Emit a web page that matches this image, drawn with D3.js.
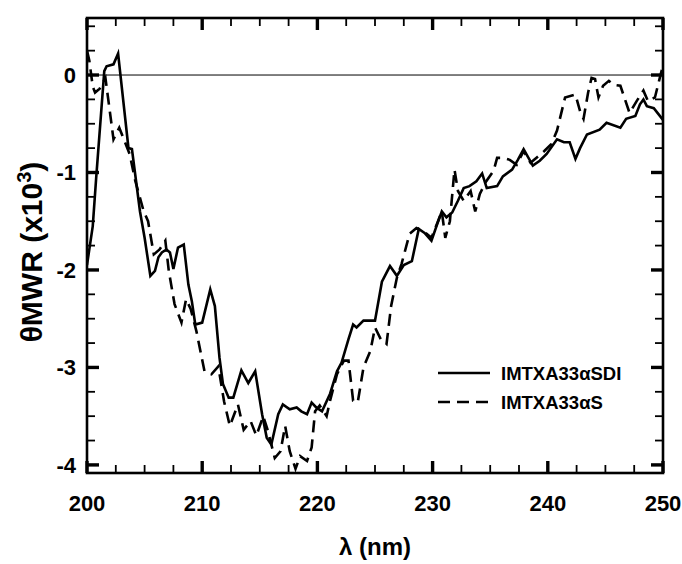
<!DOCTYPE html>
<html><head><meta charset="utf-8">
<script src="https://cdn.jsdelivr.net/npm/d3@7"></script>
</head>
<body style="margin:0;background:#fff"><svg id="c" width="682" height="564" font-family="Liberation Sans, Arial, sans-serif"></svg>
<script>
const xTicks = [200, 210, 220, 230, 240, 250];
const yTicks = [0, -1, -2, -3, -4];
const seriesNames = ["IMTXA33\u03b1SDI", "IMTXA33\u03b1S"];

const sdiLambda = [200.0,200.5,200.8,201.5,201.7,202.3,202.7,203.6,203.9,204.6,205.0,205.5,205.9,206.2,206.5,206.9,207.2,207.5,207.9,208.4,208.8,209.1,209.4,210.0,210.7,211.1,211.5,211.8,212.3,212.7,213.4,214.0,214.6,215.2,215.6,216.0,216.6,217.0,217.6,218.2,218.6,219.1,219.5,219.9,220.4,221.1,221.7,222.1,222.7,223.1,223.4,224.0,225.0,225.6,226.3,226.9,227.5,228.2,228.8,229.3,229.9,230.4,230.8,231.2,231.7,232.2,232.7,233.2,233.8,234.3,234.7,235.6,236.1,236.9,237.4,237.9,238.7,239.3,239.9,240.8,241.4,241.9,242.4,242.8,243.4,244.5,245.1,246.3,246.8,247.6,248.0,248.3,248.6,249.2,250.0];
const sdiValues = [-1.95,-1.55,-1.05,0.04,0.09,0.11,0.22,-0.75,-0.76,-1.40,-1.67,-2.06,-2.01,-1.87,-1.82,-1.79,-1.82,-1.99,-1.77,-1.74,-2.15,-2.32,-2.56,-2.54,-2.20,-2.37,-2.90,-3.17,-3.31,-3.31,-3.03,-3.16,-3.04,-3.48,-3.72,-3.79,-3.48,-3.38,-3.43,-3.41,-3.45,-3.48,-3.36,-3.41,-3.45,-3.27,-3.04,-2.95,-2.71,-2.56,-2.59,-2.52,-2.52,-2.12,-1.96,-2.06,-1.95,-1.91,-1.58,-1.62,-1.70,-1.53,-1.40,-1.46,-1.41,-1.29,-1.16,-1.14,-1.09,-1.01,-1.16,-1.14,-1.04,-0.97,-0.87,-0.76,-0.93,-0.88,-0.81,-0.66,-0.69,-0.69,-0.86,-0.75,-0.61,-0.56,-0.49,-0.54,-0.45,-0.42,-0.30,-0.25,-0.32,-0.34,-0.46];

const sLambda = [200.0,200.2,200.5,200.7,201.1,201.6,202.3,202.8,203.7,204.2,204.9,205.3,205.8,206.3,206.8,207.1,207.6,208.2,208.6,209.0,209.5,210.2,210.8,211.4,211.9,212.4,213.1,213.6,214.2,214.7,215.3,215.7,216.3,216.8,217.2,217.6,218.1,218.5,219.1,219.5,219.8,220.2,220.8,221.1,221.7,222.3,222.7,223.1,223.5,224.0,224.6,225.0,225.5,226.0,226.4,226.9,227.3,228.0,228.6,229.2,229.9,230.4,230.8,231.1,231.5,231.9,232.2,232.7,233.0,233.3,233.7,234.1,234.6,235.3,235.6,236.1,236.7,237.3,237.9,238.5,239.1,239.7,240.3,240.8,241.5,242.4,242.8,243.1,243.5,243.8,244.1,244.4,244.8,245.3,245.7,246.3,247.1,247.7,248.3,248.7,249.3,249.7,250.0];
const sValues = [0.25,0.15,-0.12,-0.18,-0.14,-0.03,-0.66,-0.54,-0.81,-1.09,-1.39,-1.50,-1.84,-1.79,-1.70,-2.01,-2.35,-2.54,-2.30,-2.40,-2.63,-3.04,-3.07,-2.99,-3.35,-3.60,-3.38,-3.64,-3.55,-3.70,-3.50,-3.65,-3.93,-3.86,-3.60,-3.86,-4.04,-3.91,-3.96,-3.82,-3.45,-3.39,-3.50,-3.34,-3.07,-2.93,-2.93,-3.34,-3.36,-3.00,-2.83,-2.59,-2.71,-2.76,-2.37,-2.08,-1.94,-1.63,-1.57,-1.60,-1.67,-1.52,-1.40,-1.67,-1.50,-0.97,-1.19,-1.29,-1.24,-1.19,-1.40,-1.22,-1.10,-0.98,-0.85,-0.85,-0.87,-0.92,-0.78,-0.90,-0.84,-0.78,-0.71,-0.57,-0.23,-0.20,-0.37,-0.45,-0.18,-0.03,-0.04,-0.23,-0.11,-0.06,-0.10,-0.11,-0.39,-0.27,-0.16,-0.27,-0.23,-0.04,0.10];

const xMinorTicks = [202.5, 205, 207.5, 212.5, 215, 217.5, 222.5, 225, 227.5, 232.5, 235, 237.5, 242.5, 245, 247.5];
const yMinorTicks = [0.5, 0.25, -0.25, -0.5, -0.75, -1.25, -1.5, -1.75, -2.25, -2.5, -2.75, -3.25, -3.5, -3.75];

const svg = d3.select("#c");
const L = 87, R = 663, T = 18, B = 473;
const xS = d3.scaleLinear().domain([200, 250]).range([L, R]);
const yS = d3.scaleLinear().domain([-4.083, 0.585]).range([B, T]);

svg.append("defs").append("clipPath").attr("id","clip")
  .append("rect").attr("x", L).attr("y", T).attr("width", R-L).attr("height", B-T);

// frame
svg.append("rect").attr("x", L).attr("y", T).attr("width", R-L).attr("height", B-T)
  .attr("fill","none").attr("stroke","#000").attr("stroke-width",2.6);

// zero line
svg.append("line").attr("x1", L).attr("x2", R).attr("y1", yS(0)).attr("y2", yS(0))
  .attr("stroke","#000").attr("stroke-width",1);

// ticks inward on all four sides
function xTickMarks(vals, len, w){
  vals.forEach(v => {
    svg.append("line").attr("x1", xS(v)).attr("x2", xS(v)).attr("y1", B).attr("y2", B - len)
      .attr("stroke","#000").attr("stroke-width", w);
    svg.append("line").attr("x1", xS(v)).attr("x2", xS(v)).attr("y1", T).attr("y2", T + len)
      .attr("stroke","#000").attr("stroke-width", w);
  });
}
function yTickMarks(vals, len, w){
  vals.forEach(v => {
    svg.append("line").attr("y1", yS(v)).attr("y2", yS(v)).attr("x1", L).attr("x2", L + len)
      .attr("stroke","#000").attr("stroke-width", w);
    svg.append("line").attr("y1", yS(v)).attr("y2", yS(v)).attr("x1", R).attr("x2", R - len)
      .attr("stroke","#000").attr("stroke-width", w);
  });
}
xTickMarks(xMinorTicks, 8, 1.8);
xTickMarks(xTicks, 12, 3.4);
yTickMarks(yMinorTicks, 8, 1.8);
yTickMarks(yTicks, 12, 3.4);

const lineGen = d3.line().x(d => xS(d[0])).y(d => yS(d[1]));
const sdi = sdiLambda.map((l,i)=>[l, sdiValues[i]]);
const sS = sLambda.map((l,i)=>[l, sValues[i]]);
const g = svg.append("g").attr("clip-path","url(#clip)");
g.append("path").datum(sdi).attr("d", lineGen).attr("fill","none").attr("stroke","#000")
  .attr("stroke-width",2.6).attr("stroke-linejoin","miter");
g.append("path").datum(sS).attr("d", lineGen).attr("fill","none").attr("stroke","#000")
  .attr("stroke-width",2.6).attr("stroke-dasharray","12,7");

// tick labels
svg.append("g").selectAll("text").data(xTicks).join("text")
  .attr("x", d => xS(d)).attr("y", 511).attr("text-anchor","middle")
  .attr("font-size",22).attr("font-weight","bold").text(d => d);
svg.append("g").selectAll("text").data(yTicks).join("text")
  .attr("x", 76).attr("y", d => yS(d) + 8).attr("text-anchor","end")
  .attr("font-size",22).attr("font-weight","bold").text(d => d);

// axis titles
svg.append("text").attr("x", 375).attr("y", 555).attr("text-anchor","middle")
  .attr("font-size",24).attr("font-weight","bold").text("\u03bb (nm)");
const yTitle = svg.append("text").attr("transform", "translate(42,252) rotate(-90)")
  .attr("text-anchor","middle").attr("font-size",30).attr("font-weight","bold");
yTitle.append("tspan").text("\u03b8MWR (x10");
yTitle.append("tspan").attr("font-size",20).attr("dy",-11).text("3");
yTitle.append("tspan").attr("dy",11).text(")");

// legend
const legY = [373, 402];
seriesNames.forEach((n,i) => {
  svg.append("line").attr("x1",438).attr("x2",490).attr("y1",legY[i]).attr("y2",legY[i])
    .attr("stroke","#000").attr("stroke-width",2.6)
    .attr("stroke-dasharray", i === 1 ? "12,7" : null);
  svg.append("text").attr("x",501).attr("y",legY[i]+7).attr("font-size",18.5)
    .attr("font-weight","bold").text(n);
});
</script></body></html>
